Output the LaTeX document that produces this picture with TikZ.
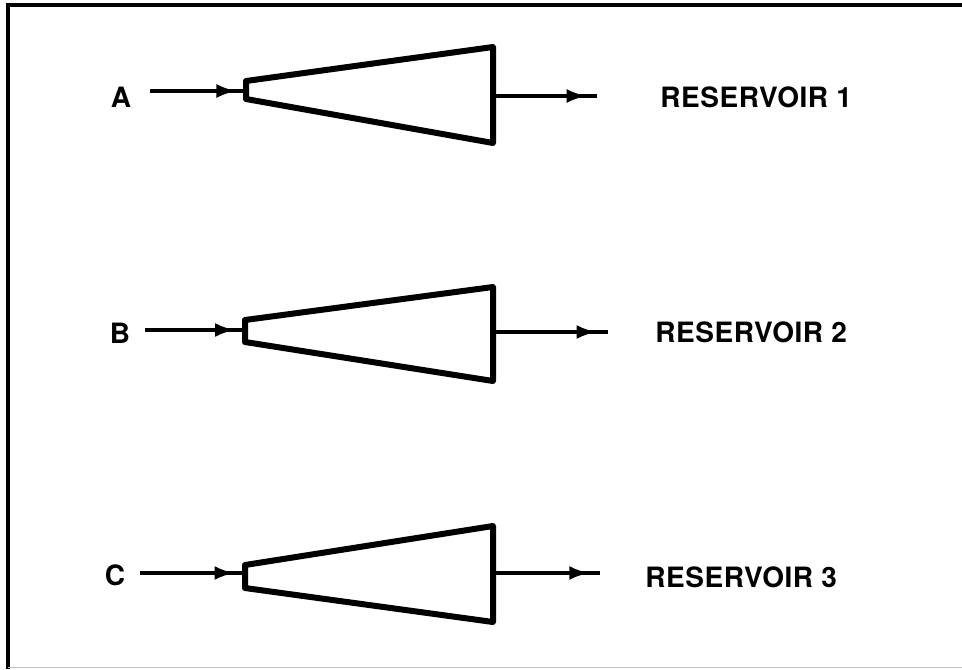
\documentclass[tikz,border=0pt]{standalone}
\usepackage{fontspec}
\setmainfont{TeX Gyre Heros}[LetterSpace=2]
\usetikzlibrary{arrows.meta,decorations.markings}

\begin{document}
\begin{tikzpicture}[
    x=0.5pt, y=-0.5pt,
    funnel/.style={line width=3pt, line join=round, fill=white},
    feed/.style={line width=1.7pt, postaction={decorate}, decoration={markings, mark=at position #1 with {\arrow{Latex[length=10pt,width=7pt]}}}},
    tag/.style={font=\fontsize{14}{16}\selectfont\bfseries, inner sep=0pt},
    frame/.style={line width=2pt, black}
]
    \useasboundingbox (0,0) rectangle (962,669);

    % Page frame
    \draw[frame] (8,669) -- (8,5) -- (962,5);
    \draw[gray!50, line width=0.5pt] (8,667) -- (962,667);

    % Source labels
    \node[tag] (labA) at (121,97) {A};
    \node[tag] (labB) at (120,333) {B};
    \node[tag] (labC) at (115,575) {C};

    % Reservoir labels
    \node[tag, anchor=west] (resA) at (660,97) {RESERVOIR 1};
    \node[tag, anchor=west] (resB) at (655,332) {RESERVOIR 2};
    \node[tag, anchor=west] (resC) at (645,577) {RESERVOIR 3};

    % Funnel corners
    \coordinate (nA1) at (246,81);  \coordinate (nA2) at (246,99);
    \coordinate (wA1) at (493,47);  \coordinate (wA2) at (493,143);
    \coordinate (nB1) at (245,320); \coordinate (nB2) at (245,342);
    \coordinate (wB1) at (493,287); \coordinate (wB2) at (493,381);
    \coordinate (nC1) at (245,565); \coordinate (nC2) at (245,588);
    \coordinate (wC1) at (493,526); \coordinate (wC2) at (493,622);

    % Line ends
    \coordinate (inA) at (150,91);  \coordinate (tipA) at (246,91);
    \coordinate (inB) at (145,330); \coordinate (tipB) at (245,330);
    \coordinate (inC) at (140,573); \coordinate (tipC) at (245,573);
    \coordinate (outA) at (493,96);  \coordinate (endA) at (597,96);
    \coordinate (outB) at (493,332); \coordinate (endB) at (608,332);
    \coordinate (outC) at (493,573); \coordinate (endC) at (600,573);

    % Funnels
    \draw[funnel] (nA1) -- (wA1) -- (wA2) -- (nA2) -- cycle;
    \draw[funnel] (nB1) -- (wB1) -- (wB2) -- (nB2) -- cycle;
    \draw[funnel] (nC1) -- (wC1) -- (wC2) -- (nC2) -- cycle;

    % Feed lines
    \draw[feed=0.9] (inA) -- (tipA);
    \draw[feed=0.9] (inB) -- (tipB);
    \draw[feed=0.9] (inC) -- (tipC);
    \draw[feed=0.9] (outA) -- (endA);
    \draw[feed=0.9] (outB) -- (endB);
    \draw[feed=0.9] (outC) -- (endC);

\end{tikzpicture}
\end{document}
